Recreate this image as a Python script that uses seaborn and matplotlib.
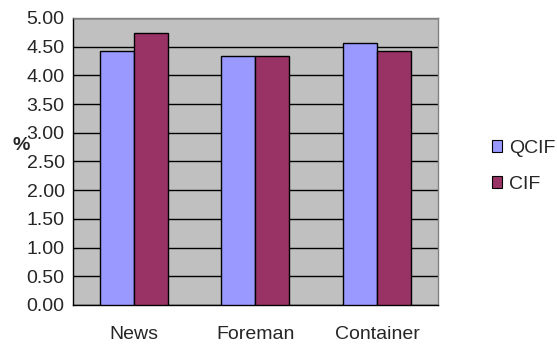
import matplotlib
matplotlib.use("Agg")
import matplotlib.pyplot as plt
import seaborn as sns
import pandas as pd
import numpy as np

categories = ["News", "Foreman", "Container"]
series = ["QCIF", "CIF"]
qcif_values = [4.43, 4.34, 4.57]
cif_values = [4.73, 4.34, 4.43]
y_ticks = [0.0, 0.5, 1.0, 1.5, 2.0, 2.5, 3.0, 3.5, 4.0, 4.5, 5.0]

df = pd.DataFrame({
    "video": categories * 2,
    "format": [series[0]] * 3 + [series[1]] * 3,
    "value": qcif_values + cif_values,
})

sns.set_theme(style="white")
plt.rcParams["font.family"] = ["Liberation Sans", "DejaVu Sans"]

fig = plt.figure(figsize=(5.57, 3.45), dpi=100)
ax = fig.add_axes([0.131, 0.116, 0.655, 0.832])
ax.set_facecolor("#C0C0C0")

sns.barplot(data=df, x="video", y="value", hue="format", order=categories,
            hue_order=series, palette=["#9999FF", "#993366"], width=0.56,
            edgecolor="black", linewidth=1.0, saturation=1, ax=ax, zorder=3)

ax.set_ylim(0, 5)
ax.set_xlim(-0.5, 2.5)
ax.set_yticks(y_ticks)
ax.set_yticklabels([f"{t:.2f}" for t in y_ticks], fontsize=14)
ax.yaxis.grid(True, color="black", linewidth=1.0, zorder=0)
ax.set_axisbelow(True)

# category tick marks sit between groups
ax.set_xticks([-0.5, 0.5, 1.5, 2.5])
ax.set_xticklabels([])
ax.tick_params(axis="x", which="major", direction="out", length=5, color="black", width=1)
ax.set_xticks([0, 1, 2], minor=True)
ax.set_xticklabels(categories, minor=True, fontsize=14)
ax.tick_params(axis="x", which="minor", length=0, pad=15)
ax.tick_params(axis="y", direction="out", length=5, color="black", width=1, pad=1)

ax.set_xlabel("")
ax.set_ylabel("%", fontsize=14, fontweight="bold", rotation=0, va="center", ha="center")
ax.yaxis.set_label_coords(-0.142, 0.557)

for side in ["left", "bottom"]:
    ax.spines[side].set_color("black")
    ax.spines[side].set_linewidth(1.0)
for side in ["top", "right"]:
    ax.spines[side].set_visible(True)
    ax.spines[side].set_color("#808080")
    ax.spines[side].set_linewidth(1.0)

leg = ax.legend(loc="center left", bbox_to_anchor=(1.1, 0.483), frameon=False,
                fontsize=14, handlelength=0.55, handleheight=0.55,
                handletextpad=0.35, labelspacing=0.95)
for h in leg.legend_handles:
    h.set_edgecolor("black")
    h.set_linewidth(0.8)

fig.savefig("out.png", dpi=100)
